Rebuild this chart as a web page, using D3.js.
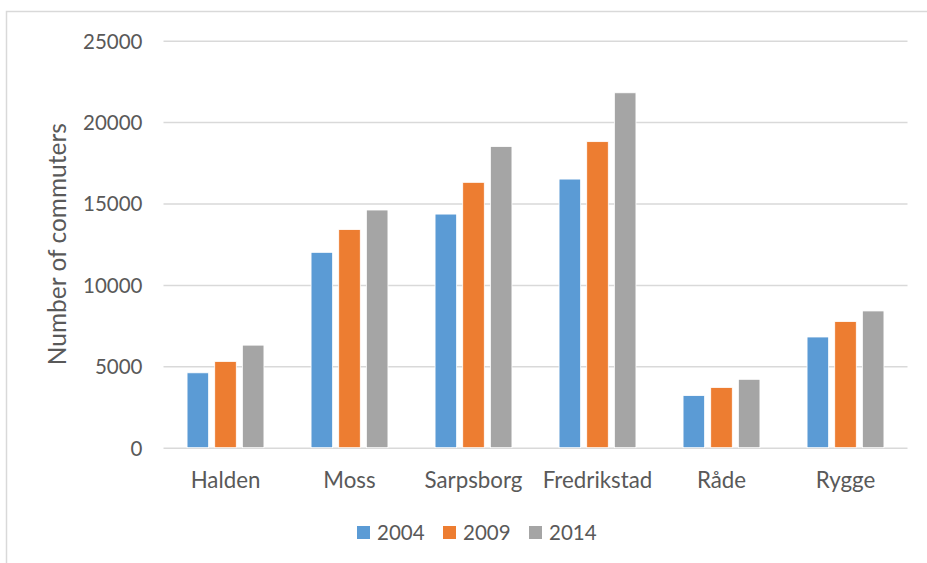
<!DOCTYPE html>
<html lang="en">
<head>
    <meta charset="UTF-8">
    <title>Number of commuters</title>
    <style>
        body {
            margin: 0;
            background: #fff;
            font-family: 'Lato', 'Open Sans', sans-serif;
        }
        svg text {
            fill: #595959;
        }
    </style>
</head>
<body>
    <svg width="927" height="563"></svg>
    <script src="https://d3js.org/d3.v7.min.js"></script>
    <script>
        // Data
        const towns = ["Halden", "Moss", "Sarpsborg", "Fredrikstad", "Råde", "Rygge"];
        const years = ["2004", "2009", "2014"];
        const values2004 = [4600, 12000, 14350, 16500, 3200, 6800];
        const values2009 = [5300, 13400, 16300, 18800, 3700, 7750];
        const values2014 = [6300, 14600, 18500, 21800, 4200, 8400];
        const yTicks = [0, 5000, 10000, 15000, 20000, 25000];
        const colors = ["#5b9bd5", "#ed7d31", "#a5a5a5"];

        const series = [values2004, values2009, values2014];

        const svg = d3.select("svg");

        // Chart area border (runs off the right and bottom edges)
        svg.append("rect")
            .attr("x", 6.5).attr("y", 11.5)
            .attr("width", 1000).attr("height", 1000)
            .attr("fill", "none")
            .attr("stroke", "#d9d9d9")
            .attr("stroke-width", 1.5);

        const plot = { left: 163.5, right: 907.5, top: 40.7, bottom: 447.7 };

        const x0 = d3.scaleBand()
            .domain(towns)
            .range([plot.left, plot.right])
            .paddingInner(0.38)
            .paddingOuter(0.19);

        const x1 = d3.scaleBand()
            .domain(years)
            .range([0, x0.bandwidth()])
            .paddingInner(0.22);

        const y = d3.scaleLinear()
            .domain([0, 25000])
            .range([plot.bottom, plot.top]);

        // Gridlines + tick labels
        const yAxis = d3.axisLeft(y)
            .tickValues(yTicks)
            .tickSize(-(plot.right - plot.left))
            .tickPadding(21)
            .tickFormat(d3.format("d"));

        const gy = svg.append("g")
            .attr("transform", `translate(${plot.left},0)`)
            .call(yAxis);
        gy.select(".domain").remove();
        gy.selectAll(".tick line")
            .attr("stroke", "#d9d9d9")
            .attr("stroke-width", 1.5);
        gy.selectAll(".tick text")
            .attr("font-family", "Lato, sans-serif")
            .attr("font-size", 20.5)
            .attr("fill", "#595959")
            .attr("dy", "0.36em");

        // Bars
        const groups = svg.append("g")
            .selectAll("g")
            .data(towns)
            .join("g")
            .attr("transform", d => `translate(${x0(d)},0)`);

        groups.selectAll("rect")
            .data((d, i) => years.map((yr, j) => ({ year: yr, value: series[j][i], c: colors[j] })))
            .join("rect")
            .attr("x", d => x1(d.year))
            .attr("y", d => y(d.value))
            .attr("width", x1.bandwidth())
            .attr("height", d => y(0) - y(d.value))
            .attr("fill", d => d.c)
            .attr("stroke", "#ffffff")
            .attr("stroke-width", 0.8);

        // Category labels
        svg.append("g")
            .selectAll("text")
            .data(towns)
            .join("text")
            .attr("x", d => x0(d) + x0.bandwidth() / 2)
            .attr("y", 487.5)
            .attr("text-anchor", "middle")
            .attr("font-size", 22.3)
            .text(d => d);

        // Y axis title
        svg.append("text")
            .attr("transform", `translate(66,${(plot.top + plot.bottom) / 2}) rotate(-90)`)
            .attr("text-anchor", "middle")
            .attr("font-size", 24.5)
            .text("Number of commuters");

        // Legend
        const legendX = [357, 443, 529];
        const legend = svg.append("g")
            .selectAll("g")
            .data(years)
            .join("g")
            .attr("transform", (d, i) => `translate(${legendX[i]},526)`);
        legend.append("rect")
            .attr("width", 13).attr("height", 13)
            .attr("fill", (d, i) => colors[i]);
        legend.append("text")
            .attr("x", 20)
            .attr("y", 14)
            .attr("font-size", 20.5)
            .text(d => d);
    </script>
</body>
</html>
